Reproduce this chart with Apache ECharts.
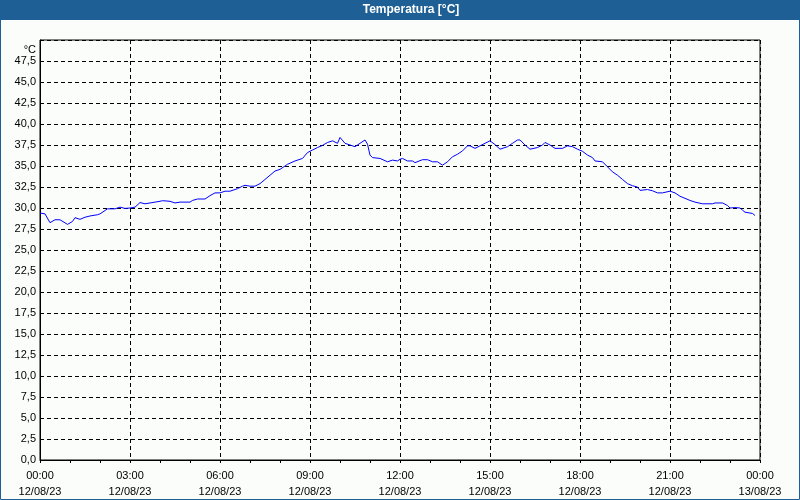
<!DOCTYPE html>
<html>
<head>
<meta charset="utf-8">
<script src="https://cdn.jsdelivr.net/npm/echarts@6/dist/echarts.min.js"></script>
<style>
html,body{margin:0;padding:0;background:#fbfdfb;}
#c{width:800px;height:500px;}
</style>
</head>
<body>
<div id="c"></div>
<script>
// Minutes since 12/08/23 00:00
const minutes = [0,10,20,30,40,55,65,70,80,90,100,115,120,135,150,160,170,180,190,200,210,220,230,240,245,260,270,280,300,305,315,330,340,350,360,370,380,395,405,410,420,430,440,450,460,470,480,495,510,525,535,545,555,565,575,585,595,600,610,620,630,640,650,655,660,665,680,695,705,715,720,725,735,745,750,765,775,785,795,805,815,825,835,845,855,860,870,880,890,900,910,920,935,945,955,960,970,980,995,1005,1010,1020,1030,1045,1055,1065,1075,1085,1095,1105,1110,1125,1135,1145,1155,1165,1175,1185,1195,1200,1215,1225,1235,1245,1260,1270,1280,1290,1300,1310,1325,1345,1350,1365,1375,1380,1390,1400,1405,1410,1425,1430];
const temperature = [29.4,29.3,28.25,28.6,28.6,28.05,28.4,28.85,28.65,28.9,29.05,29.2,29.3,29.9,29.9,30.1,29.95,30.0,30.1,30.65,30.5,30.6,30.7,30.8,30.87,30.8,30.6,30.7,30.7,30.9,31.07,31.07,31.47,31.8,31.8,32.0,32.0,32.3,32.6,32.7,32.6,32.6,32.9,33.4,33.9,34.4,34.6,35.2,35.6,35.9,36.6,36.9,37.2,37.45,37.8,38.0,37.7,38.4,37.7,37.5,37.3,37.7,38.1,37.6,36.3,36.0,35.9,35.5,35.7,35.6,35.8,35.9,35.6,35.6,35.4,35.75,35.75,35.5,35.5,35.1,35.5,36.1,36.4,36.8,37.4,37.4,37.1,37.4,37.7,38.0,37.55,37.0,37.3,37.7,38.1,38.1,37.5,37.0,37.2,37.5,37.8,37.5,37.1,37.1,37.4,37.3,37.0,36.75,36.3,36.0,35.6,35.5,34.9,34.3,33.9,33.4,32.9,32.65,32.5,32.1,32.2,32.05,31.8,31.8,32.0,31.8,31.4,31.15,30.9,30.7,30.5,30.5,30.6,30.6,30.3,30.0,30.05,30.0,29.75,29.5,29.35,29.1];
const xTickLabels = ['00:00\n12/08/23','03:00\n12/08/23','06:00\n12/08/23','09:00\n12/08/23','12:00\n12/08/23','15:00\n12/08/23','18:00\n12/08/23','21:00\n12/08/23','00:00\n13/08/23'];
const chartTitle = 'Temperatura [°C]';
const unit = '°C';

const chart = echarts.init(document.getElementById('c'), null, {renderer:'canvas'});
const font = "'Liberation Sans', Arial, sans-serif";
const data = minutes.map((m,i)=>[m, temperature[i]]);
chart.setOption({
  backgroundColor:'#fbfdfb',
  animation:false,
  textStyle:{fontFamily:font},
  graphic:[
    {type:'rect', shape:{x:0,y:0,width:800,height:20}, style:{fill:'#1e6096'}, z:10},
    {type:'text', x:411, y:10, style:{text:chartTitle, fill:'#fff', font:"bold 12px "+font, textAlign:'center', textVerticalAlign:'middle'}, z:11},
    {type:'rect', shape:{x:0.5,y:0.5,width:799,height:499}, style:{fill:'none', stroke:'#1e6096', lineWidth:1}, z:12}
  ],
  grid:{left:40, right:40, top:40, bottom:40, show:true, borderColor:'#000', borderWidth:1, backgroundColor:'transparent'},
  xAxis:{
    type:'value', min:0, max:1440, interval:180,
    axisLine:{show:true, lineStyle:{color:'#000', width:1}},
    axisTick:{show:true, length:3, lineStyle:{color:'#000'}},
    minorTick:{show:true, splitNumber:3, length:3, lineStyle:{color:'#000'}},
    splitLine:{show:true, lineStyle:{color:'#000', type:[4,3], width:1}},
    axisLabel:{color:'#000', fontSize:11, fontFamily:font, margin:8, lineHeight:16,
      formatter:v=>xTickLabels[Math.round(v/180)], showMinLabel:true, showMaxLabel:true}
  },
  yAxis:{
    type:'value', min:0, max:50, interval:2.5,
    name:unit, nameLocation:'end', nameGap:-4,
    nameTextStyle:{color:'#000', fontSize:11, fontFamily:font, align:'right', verticalAlign:'top', padding:[0,4,0,0]},
    axisLine:{show:true, lineStyle:{color:'#000'}},
    axisTick:{show:false},
    splitLine:{show:true, lineStyle:{color:'#000', type:[4,3], width:1}},
    axisLabel:{color:'#000', fontSize:11, fontFamily:font, margin:4, showMaxLabel:false,
      formatter:v=> v>=50 ? '' : v.toFixed(1).replace('.', ',')}
  },
  series:[{
    type:'line', data:data, showSymbol:false, symbol:'none', smooth:false,
    lineStyle:{color:'#0000ff', width:1}, itemStyle:{color:'#0000ff'}
  }]
});
</script>
</body>
</html>
